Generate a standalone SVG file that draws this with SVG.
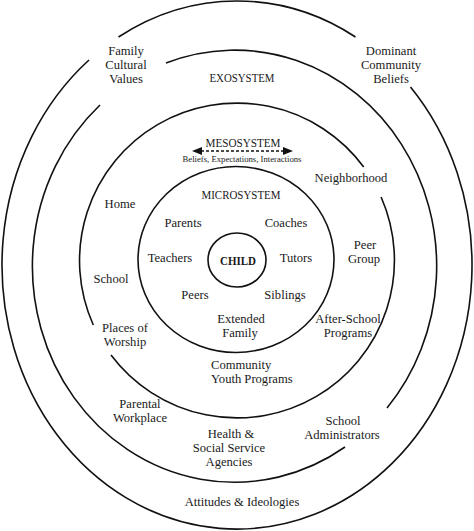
<svg xmlns="http://www.w3.org/2000/svg" width="474" height="531" viewBox="0 0 474 531">
<style>
.ring{fill:none;stroke:#111;stroke-width:1.6}
.t{font-family:"Liberation Serif","Times New Roman",serif;font-size:12.6px;fill:#1a1a1a;text-anchor:middle}
.cap{font-size:12.5px}
.b{font-weight:bold}
.sm{font-size:8.5px}
.arrow{stroke:#111;stroke-width:1.5;stroke-dasharray:3 2;fill:none}
</style>
<defs>
<marker id="ah" viewBox="0 0 10 8" refX="1" refY="4" markerWidth="10" markerHeight="8" markerUnits="userSpaceOnUse" orient="auto-start-reverse">
<path d="M0,0 L10,4 L0,8 Z" fill="#111"/>
</marker>
</defs>
<rect width="474" height="531" fill="#fff"/>
<g id="rings">
<path id="outer" class="ring" d="M118.5,37 A235,264 0 0 1 355.5,37 M410.5,87 A235,264 0 1 1 89,60"/>
<path id="exosystem-ring" class="ring" d="M166,63 A202,216 0 0 1 387,408 M345,447 A202,216 0 0 1 100,105"/>
<path id="mesosystem-ring" class="ring" d="M381.1,197 A157.5,157.5 0 0 1 111,355 M93.3,325 A157.5,157.5 0 0 1 363.7,167"/>
<ellipse id="microsystem-ring" class="ring" cx="236" cy="259.5" rx="98" ry="93"/>
<ellipse id="child-ring" class="ring" cx="237" cy="260" rx="29" ry="27"/>
</g>
<g id="connectors">
<line class="arrow" x1="201" y1="151" x2="284" y2="151" marker-start="url(#ah)" marker-end="url(#ah)"/>
</g>
<g id="family-cultural-values"><text class="t" x="126" y="54.5">Family</text><text class="t" x="126" y="68.5">Cultural</text><text class="t" x="126" y="82.5">Values</text></g>
<g id="dominant-community-beliefs"><text class="t" x="391" y="54.5">Dominant</text><text class="t" x="391" y="68.5">Community</text><text class="t" x="391" y="82.5">Beliefs</text></g>
<g id="exosystem"><text class="t cap" x="242" y="82" textLength="65" lengthAdjust="spacingAndGlyphs">EXOSYSTEM</text></g>
<g id="mesosystem"><text class="t cap" x="243" y="147" textLength="75" lengthAdjust="spacingAndGlyphs">MESOSYSTEM</text><text class="t sm" x="242" y="162" textLength="119" lengthAdjust="spacingAndGlyphs">Beliefs, Expectations, Interactions</text></g>
<g id="neighborhood"><text class="t" x="351" y="182">Neighborhood</text></g>
<g id="microsystem"><text class="t cap" x="241" y="199" textLength="79" lengthAdjust="spacingAndGlyphs">MICROSYSTEM</text></g>
<g id="home"><text class="t" x="120" y="208">Home</text></g>
<g id="parents"><text class="t" x="183" y="227">Parents</text></g>
<g id="coaches"><text class="t" x="286" y="227">Coaches</text></g>
<g id="peer-group"><text class="t" x="365" y="248.5">Peer</text><text class="t" x="364" y="262.5">Group</text></g>
<g id="teachers"><text class="t" x="170" y="262">Teachers</text></g>
<g id="child"><text class="t b" x="238" y="264.5" textLength="36" lengthAdjust="spacingAndGlyphs">CHILD</text></g>
<g id="tutors"><text class="t" x="296" y="262">Tutors</text></g>
<g id="school"><text class="t" x="111" y="283">School</text></g>
<g id="peers"><text class="t" x="195" y="299">Peers</text></g>
<g id="siblings"><text class="t" x="285" y="299">Siblings</text></g>
<g id="extended-family"><text class="t" x="241" y="323">Extended</text><text class="t" x="240" y="337">Family</text></g>
<g id="places-of-worship"><text class="t" x="125" y="332">Places of</text><text class="t" x="125" y="346">Worship</text></g>
<g id="after-school-programs"><text class="t" x="348" y="323">After-School</text><text class="t" x="348" y="337">Programs</text></g>
<g id="community-youth-programs"><text class="t" x="211" y="369" style="text-anchor:start">Community</text><text class="t" x="211" y="383" style="text-anchor:start">Youth Programs</text></g>
<g id="parental-workplace"><text class="t" x="140" y="408">Parental</text><text class="t" x="140" y="422">Workplace</text></g>
<g id="school-administrators"><text class="t" x="343" y="425">School</text><text class="t" x="342" y="439">Administrators</text></g>
<g id="health-social-service-agencies"><text class="t" x="231" y="438">Health &amp;</text><text class="t" x="229" y="452">Social Service</text><text class="t" x="229" y="466">Agencies</text></g>
<g id="attitudes-ideologies"><text class="t" x="242" y="506">Attitudes &amp; Ideologies</text></g>
</svg>
